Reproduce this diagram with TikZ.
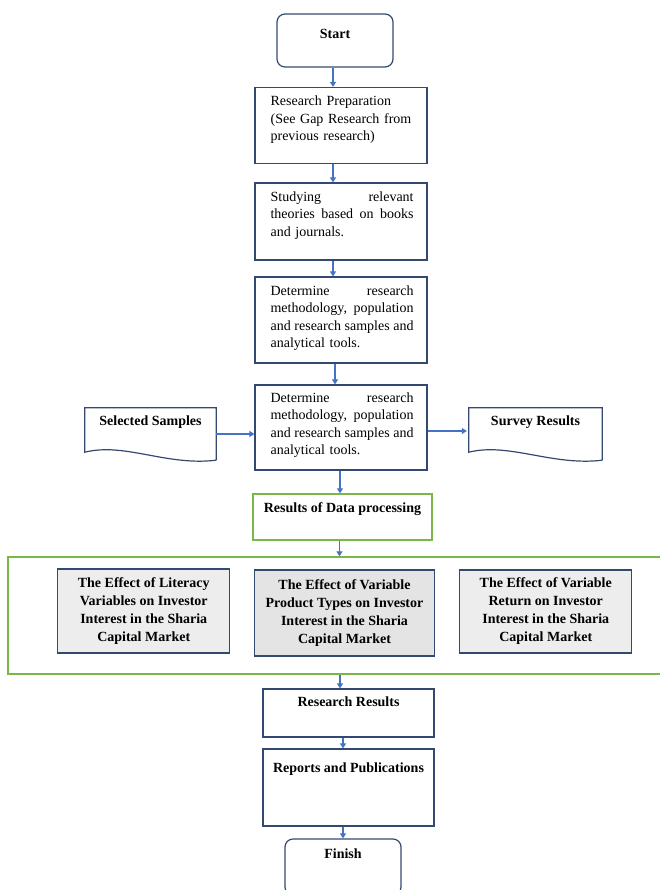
\documentclass[tikz,border=0pt]{standalone}
\usepackage{fontspec}
\setmainfont{Liberation Serif}
\usetikzlibrary{arrows.meta}
\definecolor{navy}{HTML}{34496F}
\definecolor{arrowblue}{HTML}{4472C4}
\definecolor{grn}{HTML}{7AB648}
\definecolor{lgray}{HTML}{EDEDED}
\definecolor{mgray}{HTML}{E4E4E4}
\newcommand{\jline}[1]{\leavevmode\hbox to 143pt{#1}}
\begin{document}
\begin{tikzpicture}[x=1pt,y=-1pt,
  font=\fontsize{14}{17.5}\selectfont,
  box/.style={draw=navy, line width=1.2pt, inner sep=0pt},
  rbox/.style={box, rounded corners=8pt},
  gbox/.style={draw=grn, line width=1.4pt, inner sep=0pt},
  effbox/.style={box, align=center, font=\fontsize{14}{18}\selectfont\bfseries},
  txt/.style={inner sep=0pt, anchor=north west, text width=156pt, align=left},
  ttl/.style={inner sep=0pt, anchor=north, font=\fontsize{14}{17.5}\selectfont\bfseries},
  arr/.style={draw=arrowblue, line width=1.1pt, -{Triangle[length=5pt,width=6pt]}},
  docline/.style={draw=navy, line width=1.2pt}
]
\useasboundingbox (0,0) rectangle (660,890);
\clip (0,0) rectangle (660,890);

% main column
\node[rbox, minimum width=116pt, minimum height=53pt] (start) at (335,40.5) {};
\node[ttl, yshift=-16pt] (startt) at (start.north) {Start};

\node[box, minimum width=172pt, minimum height=76pt] (b1) at (341,125.5) {};
\node[txt] (b1t) at ([xshift=16pt,yshift=-9pt]b1.north west)
  {Research Preparation\\(See Gap Research from\\previous research)};

\node[box, minimum width=172pt, minimum height=77pt] (b2) at (341,221.5) {};
\node[txt] (b2t) at ([xshift=16pt,yshift=-9pt]b2.north west)
  {\jline{Studying\hfill relevant}\\\jline{theories\hfill based\hfill on\hfill books}\\and journals.};

\node[box, minimum width=172pt, minimum height=86pt] (b3) at (341,320) {};
\node[txt] (b3t) at ([xshift=16pt,yshift=-9pt]b3.north west)
  {\jline{Determine\hfill research}\\\jline{methodology,\hfill population}\\\jline{and\hfill research\hfill samples\hfill and}\\analytical tools.};

\node[box, minimum width=172pt, minimum height=85pt] (b4) at (341,427.5) {};
\node[txt] (b4t) at ([xshift=16pt,yshift=-8pt]b4.north west)
  {\jline{Determine\hfill research}\\\jline{methodology,\hfill population}\\\jline{and\hfill research\hfill samples\hfill and}\\analytical tools.};

% document shapes
\node[minimum width=131pt, minimum height=52pt, inner sep=0pt] (ss) at (150.5,434) {};
\draw[docline] (ss.south east) -- (ss.north east) -- (ss.north west) -- ([yshift=8pt]ss.south west)
  .. controls ([xshift=40pt,yshift=18pt]ss.south west) and ([xshift=-50pt,yshift=-6pt]ss.south east) .. (ss.south east);
\node[ttl, yshift=-8pt] (sst) at (ss.north) {Selected Samples};

\node[minimum width=133pt, minimum height=52pt, inner sep=0pt] (sr) at (535.5,434) {};
\draw[docline] (sr.south east) -- (sr.north east) -- (sr.north west) -- ([yshift=8pt]sr.south west)
  .. controls ([xshift=40pt,yshift=18pt]sr.south west) and ([xshift=-50pt,yshift=-6pt]sr.south east) .. (sr.south east);
\node[ttl, yshift=-8pt] (srt) at (sr.north) {Survey Results};

% results
\node[gbox, minimum width=179pt, minimum height=46pt] (res) at (342.5,517) {};
\node[ttl, yshift=-9pt] (rest) at (res.north) {Results of Data processing};

\node[gbox, minimum width=657pt, minimum height=117pt] (big) at (336.5,615.5) {};
\node[effbox, fill=lgray, minimum width=172pt, minimum height=84pt] (g1) at (143.75,611)
  {The Effect of Literacy\\Variables on Investor\\Interest in the Sharia\\Capital Market};
\node[effbox, fill=mgray, minimum width=180pt, minimum height=86pt] (g2) at (344.5,613)
  {The Effect of Variable\\Product Types on Investor\\Interest in the Sharia\\Capital Market};
\node[effbox, fill=lgray, minimum width=172pt, minimum height=83pt] (g3) at (545.75,611.5)
  {The Effect of Variable\\Return on Investor\\Interest in the Sharia\\Capital Market};

\node[box, minimum width=171pt, minimum height=48pt] (rr) at (348.5,713) {};
\node[ttl, yshift=-8pt] (rrt) at (rr.north) {Research Results};

\node[box, minimum width=171pt, minimum height=77pt] (rp) at (348.5,787.5) {};
\node[ttl, yshift=-14pt] (rpt) at (rp.north) {Reports and Publications};

\node[rbox, minimum width=116pt, minimum height=56pt] (fin) at (343,867) {};
\node[ttl, yshift=-10pt] (fint) at (fin.north) {Finish};

% connectors
\draw[arr] ([xshift=-2pt]start.south) -- ([xshift=-2pt]start.south |- b1.north);
\draw[arr] ([xshift=-8pt]b1.south) -- ([xshift=-8pt]b2.north);
\draw[arr] ([xshift=-8pt]b2.south) -- ([xshift=-8pt]b3.north);
\draw[arr] ([xshift=-6pt]b3.south) -- ([xshift=-6pt]b4.north);
\draw[arr] (ss.east) -- (ss.east -| b4.west);
\draw[arr] (b4.east |- 0,431) -- ([xshift=-2pt]sr.west |- 0,431);
\draw[arr] ([xshift=-1pt]b4.south) -- ([xshift=-1pt]b4.south |- res.north);
\draw[arr] ([xshift=-3pt]res.south) -- ([xshift=-3pt]res.south |- big.north);
\draw[arr] ([xshift=3.5pt]big.south) -- ([xshift=3.5pt]big.south |- rr.north);
\draw[arr] ([xshift=-5.5pt]rr.south) -- ([xshift=-5.5pt]rp.north);
\draw[arr] ([xshift=-5.5pt]rp.south) -- ([xshift=-5.5pt]rp.south |- fin.north);
\end{tikzpicture}
\end{document}
